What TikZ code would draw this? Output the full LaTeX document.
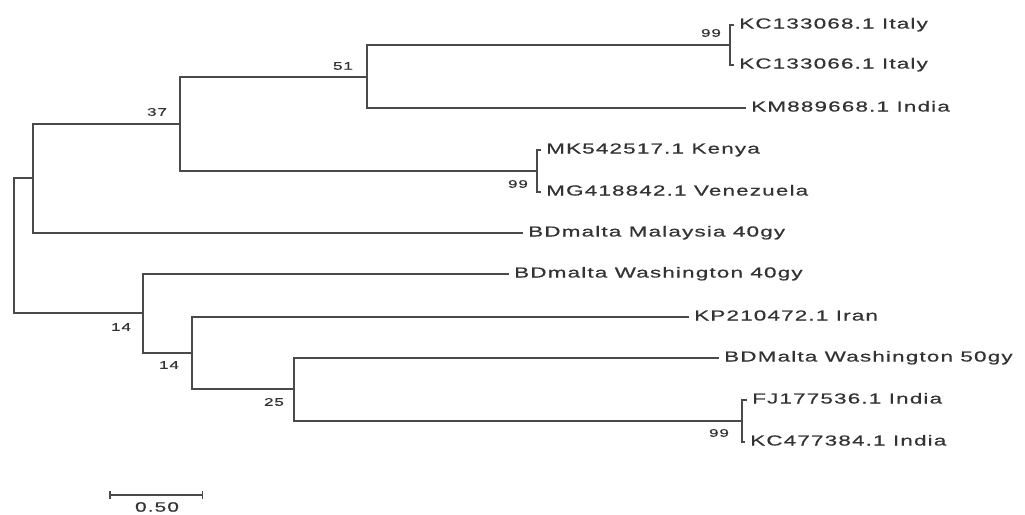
\documentclass[tikz,border=0pt]{standalone}
\usepackage{fontspec}
\usepackage{tikz}
\usetikzlibrary{arrows.meta,positioning}
\newfontfamily\treefont{Liberation Sans}[FakeStretch=1.55, LetterSpace=8, FakeBold=0.6]
\definecolor{branchgray}{HTML}{4A4A4A}
\definecolor{labelgray}{HTML}{333333}

\begin{document}
\begin{tikzpicture}[x=1pt, y=-1pt,
  branch/.style={draw=branchgray, line width=1.5pt, line cap=rect},
  leaf/.style={anchor=west, inner xsep=6pt, inner ysep=0pt, text height=10pt, text depth=3pt, text=labelgray, font=\treefont\fontsize{14.5}{16}\selectfont},
  boot/.style={inner sep=0pt, text=labelgray, font=\treefont\fontsize{11}{12}\selectfont},
  scalebar/.style={draw=branchgray, line width=1.5pt, {Bar[width=8pt]}-{Bar[width=8pt]}}
]
  \useasboundingbox (0,0) rectangle (1025,514);

  \coordinate (root) at (14,245);
  \coordinate (n1) at (33,178);
  \coordinate (n37) at (180,124);
  \coordinate (n51) at (367,77);
  \coordinate (nit) at (730,45);
  \coordinate (nke) at (537,171);
  \coordinate (n14a) at (143,313);
  \coordinate (n14b) at (192,353);
  \coordinate (n25) at (294,389);
  \coordinate (nin) at (742,421);

  \node[leaf] (kc68) at (733,25) {KC133068.1 Italy};
  \node[leaf] (kc66) at (733,65) {KC133066.1 Italy};
  \node[leaf] (km) at (745,108) {KM889668.1 India};
  \node[leaf] (mk) at (540,150) {MK542517.1 Kenya};
  \node[leaf] (mg) at (540,192) {MG418842.1 Venezuela};
  \node[leaf] (mal) at (522,233) {BDmalta Malaysia 40gy};
  \node[leaf] (wa40) at (508,274) {BDmalta Washington 40gy};
  \node[leaf] (kp) at (688,317) {KP210472.1 Iran};
  \node[leaf] (wa50) at (718,358) {BDMalta Washington 50gy};
  \node[leaf] (fj) at (746,400) {FJ177536.1 India};
  \node[leaf] (kc84) at (744,442) {KC477384.1 India};

  \draw[branch] (root) |- (n1);
  \draw[branch] (root) |- (n14a);
  \draw[branch] (n1) |- (n37);
  \draw[branch] (n1) |- (mal.west);
  \draw[branch] (n37) |- (n51);
  \draw[branch] (n37) |- (nke);
  \draw[branch] (n51) |- (nit);
  \draw[branch] (n51) |- (km.west);
  \draw[branch] (nit) |- (kc68.west);
  \draw[branch] (nit) |- (kc66.west);
  \draw[branch] (nke) |- (mk.west);
  \draw[branch] (nke) |- (mg.west);
  \draw[branch] (n14a) |- (wa40.west);
  \draw[branch] (n14a) |- (n14b);
  \draw[branch] (n14b) |- (kp.west);
  \draw[branch] (n14b) |- (n25);
  \draw[branch] (n25) |- (wa50.west);
  \draw[branch] (n25) |- (nin);
  \draw[branch] (nin) |- (fj.west);
  \draw[branch] (nin) |- (kc84.west);

  \node[boot] (b51) at (343,66) {51};
  \node[boot] (b37) at (157,112) {37};
  \node[boot] (bit) at (711,33) {99};
  \node[boot] (bke) at (518,184) {99};
  \node[boot] (b14a) at (121,327) {14};
  \node[boot] (b14b) at (169,365) {14};
  \node[boot] (b25) at (274,402) {25};
  \node[boot] (bin) at (719,433) {99};

  \coordinate (sbl) at (109,495);
  \coordinate (sbr) at (203,495);
  \draw[scalebar] (sbl) -- (sbr);
  \node[boot, font=\treefont\fontsize{13.5}{14}\selectfont] (sblabel) at (157,507) {0.50};
\end{tikzpicture}
\end{document}
